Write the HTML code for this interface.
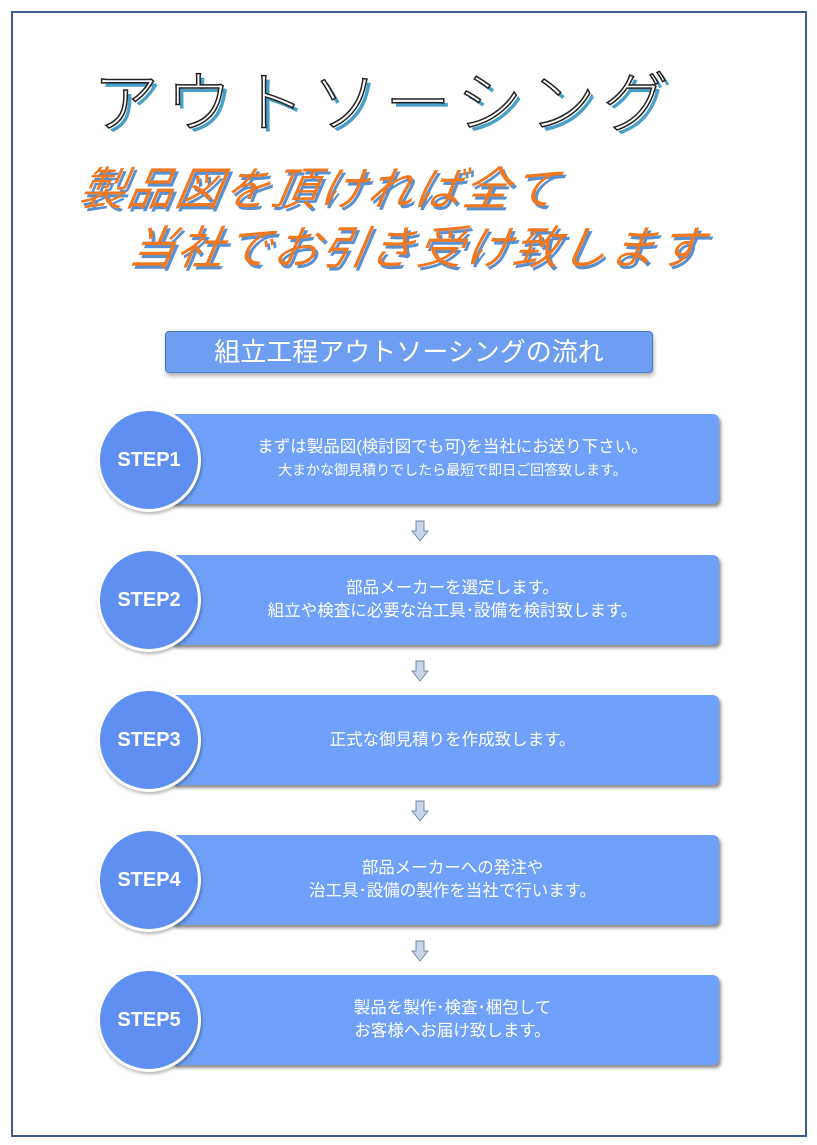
<!DOCTYPE html>
<html><head><meta charset="utf-8"><style>
body{margin:0;width:817px;height:1145px;background:#fff;position:relative;overflow:hidden;font-family:"Liberation Sans","Noto Sans CJK JP",sans-serif}
.frame{position:absolute;left:11px;top:11px;width:792px;height:1122px;border:2px solid #3d5f8f}
.t1{position:absolute;left:93px;top:70px;font-size:66px;letter-spacing:7px;color:#fff;-webkit-text-stroke:1.5px #222;text-shadow:4px 4px 0 #4a9fc8;white-space:nowrap;line-height:1;font-weight:300}
.t2{position:absolute;font-size:46px;font-style:italic;color:#f07820;text-shadow:3px 3px 0 #5a8fd0;white-space:nowrap;line-height:1;transform:skewX(-10deg);letter-spacing:2px}
.hdr{position:absolute;left:165px;top:331px;width:486px;height:40px;background:#6d9ef2;border:1.5px solid #4a78c8;border-radius:4px;color:#fff;font-size:26px;text-align:center;line-height:40px;box-shadow:1px 3px 4px rgba(0,0,0,.3)}
.box{position:absolute;left:170px;width:549px;height:90px;background:#6fa1fa;border-radius:6px;box-shadow:2px 3px 3px rgba(0,0,0,.45);color:#fff;display:flex;flex-direction:column;justify-content:center;align-items:center;font-size:16.5px;line-height:23px;padding-left:16px;box-sizing:border-box}
.circ{position:absolute;left:97px;width:104px;height:104px;border-radius:50%;background:#5f8ff0;border:3px solid #fff;box-sizing:border-box;box-shadow:1px 2px 3px rgba(0,0,0,.3);color:#fff;font-weight:bold;font-size:20px;display:flex;align-items:center;justify-content:center}
.arr{position:absolute;left:411px}
</style></head><body>
<div class="frame"></div>
<div class="t1">アウトソーシング</div>
<div class="t2" style="left:80px;top:166px">製品図を頂ければ全て</div>
<div class="t2" style="left:130px;top:225px">当社でお引き受け致します</div>
<div class="hdr">組立工程アウトソーシングの流れ</div>

<div class="box" style="top:414px"><div>まずは製品図(検討図でも可)を当社にお送り下さい。</div><div style="font-size:14px">大まかな御見積りでしたら最短で即日ご回答致します。</div></div>
<div class="circ" style="top:408px">STEP1</div>
<div class="box" style="top:555px"><div>部品メーカーを選定します。</div><div>組立や検査に必要な治工具･設備を検討致します。</div></div>
<div class="circ" style="top:548px">STEP2</div>
<div class="box" style="top:695px"><div>正式な御見積りを作成致します。</div></div>
<div class="circ" style="top:688px">STEP3</div>
<div class="box" style="top:835px"><div>部品メーカーへの発注や</div><div>治工具･設備の製作を当社で行います。</div></div>
<div class="circ" style="top:828px">STEP4</div>
<div class="box" style="top:975px"><div>製品を製作･検査･梱包して</div><div>お客様へお届け致します。</div></div>
<div class="circ" style="top:968px">STEP5</div>

<svg class="arr" style="top:520px" width="18" height="22"><path d="M5 1h8v10h4l-8 10-8-10h4z" fill="#c8d4e8" stroke="#7088a8"/></svg>
<svg class="arr" style="top:660px" width="18" height="22"><path d="M5 1h8v10h4l-8 10-8-10h4z" fill="#c8d4e8" stroke="#7088a8"/></svg>
<svg class="arr" style="top:800px" width="18" height="22"><path d="M5 1h8v10h4l-8 10-8-10h4z" fill="#c8d4e8" stroke="#7088a8"/></svg>
<svg class="arr" style="top:940px" width="18" height="22"><path d="M5 1h8v10h4l-8 10-8-10h4z" fill="#c8d4e8" stroke="#7088a8"/></svg>
</body></html>
